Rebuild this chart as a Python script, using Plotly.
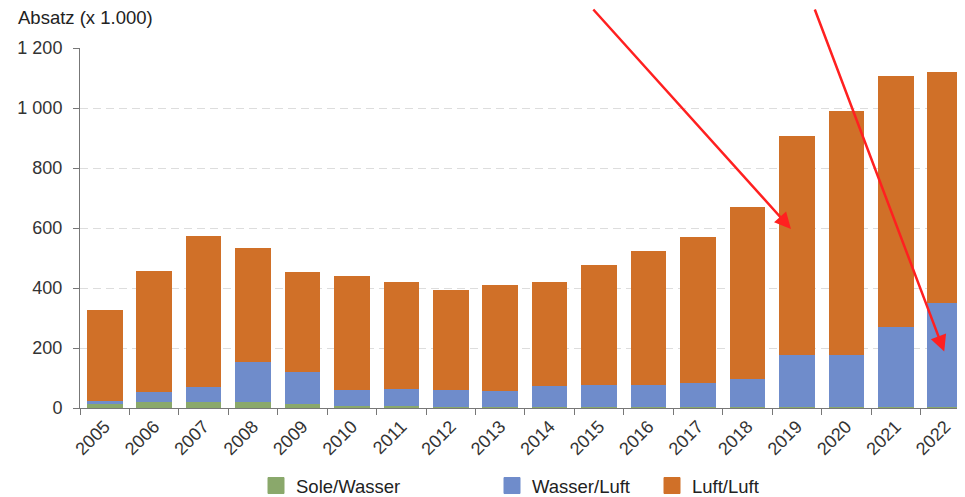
import plotly.graph_objects as go

years = [str(y) for y in range(2005, 2023)]
sole_wasser = [14, 20, 20, 20, 14, 8, 8, 5, 4, 2, 2, 2, 2, 2, 2, 2, 2, 2]
wasser_luft = [9, 32, 49, 133, 107, 53, 55, 55, 54, 71, 75, 74, 82, 96, 176, 174, 268, 347]
luft_luft = [304, 405, 504, 380, 332, 379, 357, 333, 352, 347, 400, 447, 486, 572, 729, 814, 837, 771]
y_ticks = [0, 200, 400, 600, 800, 1000, 1200]

# the page body has an 8px margin; the figure is sized to fit the window
OFF = 8
W, H = 965 - OFF, 497 - OFF

series = [
    ("Sole/Wasser", sole_wasser, "#8aa86b", "legend", 276),
    ("Wasser/Luft", wasser_luft, "#6f8ccb", "legend2", 512),
    ("Luft/Luft", luft_luft, "#d07028", "legend3", 672),
]

# arrow tips (category index, value) and tail offsets in pixels
arrows = [(13.88, 597, -199, -221), (16.98, 188, -130, -344)]

fig = go.Figure()
for name, vals, color, leg, cx in series:
    fig.add_trace(go.Bar(x=years, y=vals, name=name, marker_color=color,
                         marker_line_width=0, showlegend=False))
for name, vals, color, leg, cx in series:
    fig.add_trace(go.Scatter(x=[None], y=[None], mode="markers", name=name,
                             marker=dict(symbol="square", size=16, color=color,
                                         line=dict(width=1, color=color)),
                             legend=leg, showlegend=True))

legend_common = dict(orientation="h", font=dict(size=18.5, color="#222"),
                     xref="container", yref="container", yanchor="middle",
                     xanchor="left", bgcolor="rgba(0,0,0,0)", itemsizing="trace")
layout_legends = {}
for name, vals, color, leg, cx in series:
    layout_legends[leg] = dict(legend_common, x=(cx - 20 - OFF) / W,
                               y=1 - (486 - OFF) / H)

fig.update_layout(
    width=W, height=H,
    margin=dict(l=80 - OFF, r=0, t=48 - OFF, b=H - (408 - OFF), autoexpand=False),
    barmode="stack", bargap=0.28,
    plot_bgcolor="white", paper_bgcolor="white",
    font=dict(family="Liberation Sans, Arial, sans-serif", color="#333"),
    separators=", ",
    title=dict(text="Absatz (x 1.000)", xref="container", yref="container",
               x=(18 - OFF) / W, xanchor="left", y=1 - (18 - OFF) / H, yanchor="middle",
               font=dict(size=18.5, color="#222")),
    **layout_legends,
)
fig.update_xaxes(type="category", range=[-0.5, 17.4], tickangle=-45,
                 tickfont=dict(size=18, color="#333"),
                 showline=True, linecolor="#777", linewidth=1,
                 ticks="outside", tickson="boundaries", ticklen=6, tickcolor="#777",
                 showgrid=False)
fig.update_yaxes(range=[0, 1200], tickvals=y_ticks, tickformat=",d",
                 tickfont=dict(size=18, color="#333"),
                 showline=True, linecolor="#777", linewidth=1,
                 ticks="outside", ticklen=6, tickcolor="#777",
                 showgrid=True, gridcolor="#dddddd", griddash="8px,5px", gridwidth=1,
                 zeroline=False, ticklabelstandoff=7)
for xi, yi, ax, ay in arrows:
    fig.add_annotation(x=xi, y=yi, xref="x", yref="y", ax=ax, ay=ay,
                       axref="pixel", ayref="pixel", showarrow=True, text="",
                       arrowhead=2, arrowsize=1.3, arrowwidth=2.5, arrowcolor="#ff2020")

fig.write_html("out.html")
